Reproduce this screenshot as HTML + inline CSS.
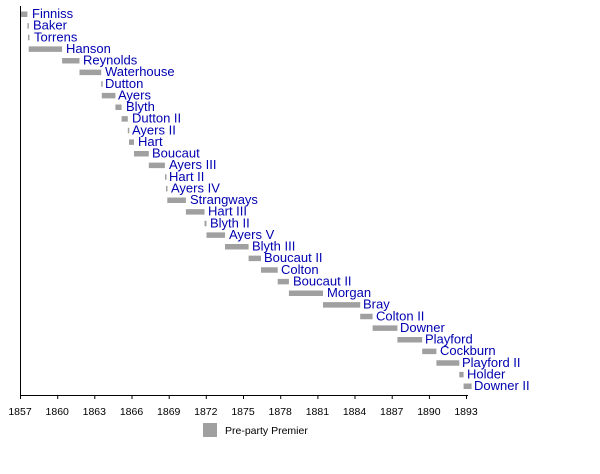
<!DOCTYPE html>
<html><head><meta charset="utf-8"><style>
html,body{margin:0;padding:0;background:#fff;}
svg{display:block;}
.b{fill:#a0a0a0;}
.t{font-family:"Liberation Sans",sans-serif;font-size:13px;fill:#0000b0;}
.a{font-family:"Liberation Sans",sans-serif;font-size:10.5px;fill:#000;text-anchor:middle;}
</style></head><body>
<svg width="600" height="474" viewBox="0 0 600 474" xmlns="http://www.w3.org/2000/svg">
<g>
<g transform="translate(0,0)"><rect class="b" x="20" y="11.5" width="7.4" height="5.5"/><text class="t" x="32" y="18">Finniss</text></g>
<g transform="translate(0,11.625)"><rect class="b" x="27.4" y="11.5" width="1.5" height="5.5"/><text class="t" x="33" y="18">Baker</text></g>
<g transform="translate(0,23.25)"><rect class="b" x="28" y="11.5" width="1.5" height="5.5"/><text class="t" x="34" y="18">Torrens</text></g>
<g transform="translate(0,34.875)"><rect class="b" x="28.7" y="11.5" width="33.4" height="5.5"/><text class="t" x="66" y="18">Hanson</text></g>
<g transform="translate(0,46.5)"><rect class="b" x="62.1" y="11.5" width="17.4" height="5.5"/><text class="t" x="83" y="18">Reynolds</text></g>
<g transform="translate(0,58.125)"><rect class="b" x="79.5" y="11.5" width="21.7" height="5.5"/><text class="t" x="105" y="18">Waterhouse</text></g>
<g transform="translate(0,69.75)"><rect class="b" x="101.2" y="11.5" width="1.5" height="5.5"/><text class="t" x="105" y="18">Dutton</text></g>
<g transform="translate(0,81.375)"><rect class="b" x="101.8" y="11.5" width="13.6" height="5.5"/><text class="t" x="118" y="18">Ayers</text></g>
<g transform="translate(0,93)"><rect class="b" x="115.4" y="11.5" width="6.2" height="5.5"/><text class="t" x="126" y="18">Blyth</text></g>
<g transform="translate(0,104.625)"><rect class="b" x="121.6" y="11.5" width="6.2" height="5.5"/><text class="t" x="132" y="18">Dutton II</text></g>
<g transform="translate(0,116.25)"><rect class="b" x="127.8" y="11.5" width="1.5" height="5.5"/><text class="t" x="132" y="18">Ayers II</text></g>
<g transform="translate(0,127.875)"><rect class="b" x="129" y="11.5" width="5" height="5.5"/><text class="t" x="138" y="18">Hart</text></g>
<g transform="translate(0,139.5)"><rect class="b" x="134" y="11.5" width="14.8" height="5.5"/><text class="t" x="152" y="18">Boucaut</text></g>
<g transform="translate(0,151.125)"><rect class="b" x="148.8" y="11.5" width="16.1" height="5.5"/><text class="t" x="169" y="18">Ayers III</text></g>
<g transform="translate(0,162.75)"><rect class="b" x="165" y="11.5" width="1.5" height="5.5"/><text class="t" x="169" y="18">Hart II</text></g>
<g transform="translate(0,174.375)"><rect class="b" x="166" y="11.5" width="1.5" height="5.5"/><text class="t" x="171" y="18">Ayers IV</text></g>
<g transform="translate(0,186)"><rect class="b" x="167.3" y="11.5" width="18.6" height="5.5"/><text class="t" x="190" y="18">Strangways</text></g>
<g transform="translate(0,197.625)"><rect class="b" x="185.9" y="11.5" width="18.6" height="5.5"/><text class="t" x="208" y="18">Hart III</text></g>
<g transform="translate(0,209.25)"><rect class="b" x="204.5" y="11.5" width="2" height="5.5"/><text class="t" x="210" y="18">Blyth II</text></g>
<g transform="translate(0,220.875)"><rect class="b" x="206.5" y="11.5" width="18.5" height="5.5"/><text class="t" x="229" y="18">Ayers V</text></g>
<g transform="translate(0,232.5)"><rect class="b" x="225" y="11.5" width="23.6" height="5.5"/><text class="t" x="252" y="18">Blyth III</text></g>
<g transform="translate(0,244.125)"><rect class="b" x="248.6" y="11.5" width="12.4" height="5.5"/><text class="t" x="264" y="18">Boucaut II</text></g>
<g transform="translate(0,255.75)"><rect class="b" x="261" y="11.5" width="16.7" height="5.5"/><text class="t" x="281" y="18">Colton</text></g>
<g transform="translate(0,267.375)"><rect class="b" x="277.7" y="11.5" width="11.2" height="5.5"/><text class="t" x="293" y="18">Boucaut II</text></g>
<g transform="translate(0,279)"><rect class="b" x="288.9" y="11.5" width="34.1" height="5.5"/><text class="t" x="327" y="18">Morgan</text></g>
<g transform="translate(0,290.625)"><rect class="b" x="323" y="11.5" width="37.2" height="5.5"/><text class="t" x="363" y="18">Bray</text></g>
<g transform="translate(0,302.25)"><rect class="b" x="360.2" y="11.5" width="12.4" height="5.5"/><text class="t" x="376" y="18">Colton II</text></g>
<g transform="translate(0,313.875)"><rect class="b" x="372.6" y="11.5" width="24.8" height="5.5"/><text class="t" x="400" y="18">Downer</text></g>
<g transform="translate(0,325.5)"><rect class="b" x="397.4" y="11.5" width="24.8" height="5.5"/><text class="t" x="425" y="18">Playford</text></g>
<g transform="translate(0,337.125)"><rect class="b" x="422.2" y="11.5" width="14.2" height="5.5"/><text class="t" x="440" y="18">Cockburn</text></g>
<g transform="translate(0,348.75)"><rect class="b" x="436.4" y="11.5" width="22.9" height="5.5"/><text class="t" x="462" y="18">Playford II</text></g>
<g transform="translate(0,360.375)"><rect class="b" x="459.3" y="11.5" width="4.3" height="5.5"/><text class="t" x="467" y="18">Holder</text></g>
<g transform="translate(0,372)"><rect class="b" x="463.6" y="11.5" width="8" height="5.5"/><text class="t" x="474" y="18">Downer II</text></g>
</g>
<line x1="20.5" y1="6" x2="20.5" y2="395" stroke="#000" stroke-width="1"/>
<line x1="20" y1="395.5" x2="468" y2="395.5" stroke="#000" stroke-width="1"/>
<g stroke="#000" stroke-width="1">
<line x1="20.5" y1="395" x2="20.5" y2="399"/><line x1="57.7" y1="395" x2="57.7" y2="399"/><line x1="94.8" y1="395" x2="94.8" y2="399"/><line x1="132" y1="395" x2="132" y2="399"/><line x1="169.2" y1="395" x2="169.2" y2="399"/><line x1="206.3" y1="395" x2="206.3" y2="399"/><line x1="243.5" y1="395" x2="243.5" y2="399"/><line x1="280.7" y1="395" x2="280.7" y2="399"/><line x1="317.9" y1="395" x2="317.9" y2="399"/><line x1="355" y1="395" x2="355" y2="399"/><line x1="392.2" y1="395" x2="392.2" y2="399"/><line x1="429.4" y1="395" x2="429.4" y2="399"/><line x1="466.5" y1="395" x2="466.5" y2="399"/>
</g>
<g class="a">
<text class="a" x="20" y="415">1857</text><text class="a" x="57.2" y="415">1860</text><text class="a" x="94.3" y="415">1863</text><text class="a" x="131.5" y="415">1866</text><text class="a" x="168.7" y="415">1869</text><text class="a" x="205.8" y="415">1872</text><text class="a" x="243" y="415">1875</text><text class="a" x="280.2" y="415">1878</text><text class="a" x="317.4" y="415">1881</text><text class="a" x="354.5" y="415">1884</text><text class="a" x="391.7" y="415">1887</text><text class="a" x="428.9" y="415">1890</text><text class="a" x="466" y="415">1893</text>
</g>
<rect class="b" x="203" y="423" width="14" height="14"/>
<text x="225" y="434" style="font-family:'Liberation Sans',sans-serif;font-size:10.5px;fill:#000">Pre-party Premier</text>
</svg>
</body></html>
